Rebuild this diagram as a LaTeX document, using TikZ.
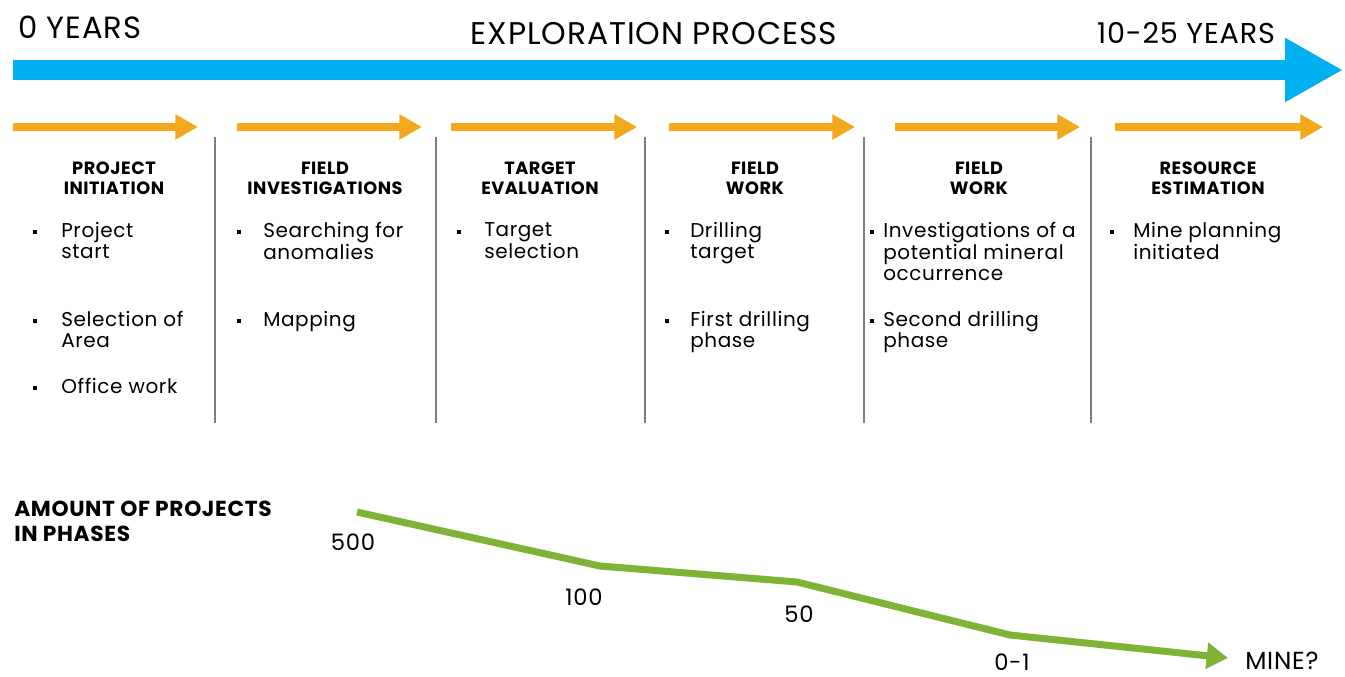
\documentclass[tikz,border=0pt]{standalone}
\usepackage{fontspec}
\setmainfont{Poppins}[LetterSpace=3]
\usetikzlibrary{arrows.meta,positioning}
\definecolor{timeblue}{RGB}{0,176,240}
\definecolor{phaseorange}{RGB}{242,169,27}
\definecolor{countgreen}{RGB}{127,179,53}
\definecolor{sepgray}{RGB}{125,125,125}
\tikzset{
	yearlabel/.style={font=\fontsize{21.5}{25}\selectfont,inner sep=0pt},
	phasearrow/.style={phaseorange,line width=6pt,-{Triangle[length=17pt,width=18pt]}},
	phasehead/.style={font=\bfseries\fontsize{13.3}{15}\selectfont,align=center,inner sep=0pt},
	item/.style={font=\fontsize{15}{15.4}\selectfont,align=left,anchor=north west,inner sep=0pt},
	bullet/.style={fill=black,minimum size=3.2pt,inner sep=0pt},
	divider/.style={sepgray,line width=0.9pt},
	count/.style={font=\fontsize{17}{20}\selectfont,inner sep=0pt},
}
\begin{document}
\begin{tikzpicture}[x=0.75pt,y=-0.75pt]
	\useasboundingbox[fill=white] (0,0) rectangle (1345,677);
	% time line
	\draw[timeblue,line width=15pt,-{Triangle[length=43.5pt,width=45pt]}] (13,70) -- (1343,70);
	\node[yearlabel,font=\fontsize{23}{26}\selectfont,anchor=west] (start) at (18,27) {0 YEARS};
	\node[yearlabel,font=\fontsize{23.5}{26}\selectfont] (title) at (654,34) {EXPLORATION PROCESS};
	\node[yearlabel] (finish) at (1186,33) {10-25 YEARS};
	% phase arrows
	\draw[phasearrow] (13,127) -- (198,127);
	\draw[phasearrow] (237,127) -- (422,127);
	\draw[phasearrow] (451,127) -- (637,127);
	\draw[phasearrow] (669,127) -- (855,127);
	\draw[phasearrow] (895,127) -- (1080,127);
	\draw[phasearrow] (1115,127) -- (1323,127);
	% dividers
	\draw[divider] (215,137) -- (215,423);
	\draw[divider] (436,137) -- (436,423);
	\draw[divider] (645,137) -- (645,423);
	\draw[divider] (864,137) -- (864,423);
	\draw[divider] (1091,137) -- (1091,423);
	% phase headings
	\node[phasehead] (initiation) at (114,178) {PROJECT\\INITIATION};
	\node[phasehead] (investigation) at (325,178) {FIELD\\INVESTIGATIONS};
	\node[phasehead] (evaluation) at (540,178) {TARGET\\EVALUATION};
	\node[phasehead] (fieldwork) at (755,178) {FIELD\\WORK};
	\node[phasehead] (fieldwork2) at (979,178) {FIELD\\WORK};
	\node[phasehead] (estimation) at (1208,178) {RESOURCE\\ESTIMATION};
	% items
	\node[bullet] (b11) at (35,232) {};
	\node[item] (start1) at (61,222) {Project\\start};
	\node[bullet] (b12) at (35,321) {};
	\node[item] (area1) at (61,311) {Selection of\\Area};
	\node[bullet] (b13) at (35,388) {};
	\node[item] (office1) at (61,378) {Office work};
	\node[bullet] (b21) at (239,232) {};
	\node[item] (search2) at (263,222) {Searching for\\anomalies};
	\node[bullet] (b22) at (239,321) {};
	\node[item] (map2) at (263,311) {Mapping};
	\node[bullet] (b31) at (459,232) {};
	\node[item] (select3) at (484,222) {Target\\selection};
	\node[bullet] (b41) at (667,232) {};
	\node[item] (drill4) at (690,222) {Drilling\\target};
	\node[bullet] (b42) at (667,321) {};
	\node[item] (first4) at (690,311) {First drilling\\phase};
	\node[bullet] (b51) at (872,232) {};
	\node[item] (invest5) at (883,222) {Investigations of a\\potential mineral\\occurrence};
	\node[bullet] (b52) at (872,321) {};
	\node[item] (second5) at (883,311) {Second drilling\\phase};
	\node[bullet] (b61) at (1112,232) {};
	\node[item] (mine6) at (1133,222) {Mine planning\\initiated};
	% amount of projects
	\node[font=\bfseries\fontsize{16.3}{18.5}\selectfont,align=left,anchor=north west,inner sep=0pt] (amount) at (14,501) {AMOUNT OF PROJECTS\\IN PHASES};
	\coordinate (v1) at (357,512);
	\coordinate (v2) at (600,566);
	\coordinate (v3) at (797,582);
	\coordinate (v4) at (1010,635);
	\coordinate (v5) at (1228,658);
	\draw[countgreen,line width=5.25pt,-{Triangle[length=16pt,width=19pt]}] (v1) -- (v2) -- (v3) -- (v4) -- (v5);
	\node[count] (n500) at (353,542) {500};
	\node[count] (n100) at (584,597) {100};
	\node[count] (n50) at (799,614) {50};
	\node[count] (n01) at (1012,662) {0-1};
	\node[count,font=\fontsize{18.5}{20}\selectfont,anchor=west] (mine) at (1245,661) {MINE?};
\end{tikzpicture}
\end{document}
